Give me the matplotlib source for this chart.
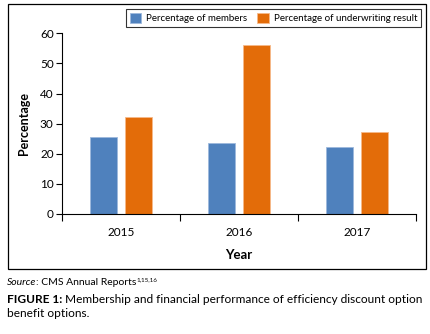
import numpy as np
import matplotlib.pyplot as plt
from matplotlib.patches import Rectangle

years = ['2015', '2016', '2017']
members = [25.7, 23.7, 22.1]
underwriting = [32.3, 56.1, 27.1]
series_names = ['Percentage of members', 'Percentage of underwriting result']

plt.rcParams['font.family'] = ['Lato', 'DejaVu Sans']

W, H = 431, 334
fig = plt.figure(figsize=(W / 100, H / 100), dpi=100)

# axes placement from pixel positions
x0, x1, y0, y1 = 62, 416, 214, 33.3
ax = fig.add_axes([x0 / W, 1 - y0 / H, (x1 - x0) / W, (y0 - y1) / H])

x = np.arange(len(years))
w = 0.23
off = 0.145
ax.bar(x - off, members, w, color='#4F81BD', edgecolor='#9DB9DC', linewidth=0.6, label=series_names[0])
ax.bar(x + off, underwriting, w, color='#E36C09', edgecolor='#F6B98A', linewidth=0.6, label=series_names[1])

ax.set_xlim(-0.5, 2.5)
ax.set_ylim(0, 60)
ax.set_yticks(range(0, 61, 10))
ax.set_xticks(x)
ax.set_xticklabels(years)
ax.set_xticks([-0.5, 0.5, 1.5, 2.5], minor=True)
ax.tick_params(axis='x', which='major', length=0, labelsize=8.5, pad=9)
ax.tick_params(axis='x', which='minor', length=5, direction='out', width=0.8)
ax.tick_params(axis='y', length=4, width=0.8, labelsize=8.5, pad=2)
for s in ['top', 'right']:
    ax.spines[s].set_visible(False)
ax.spines['left'].set_linewidth(0.8)
ax.spines['bottom'].set_linewidth(0.8)

ax.set_ylabel('Percentage', fontsize=9, fontweight='bold', labelpad=7)
ax.set_xlabel('Year', fontsize=9.5, fontweight='bold', labelpad=8)

leg = fig.legend(loc='upper right', bbox_to_anchor=(421 / W, 1 - 9 / H), ncol=2, fontsize=7,
                 frameon=True, fancybox=False, handlelength=1.2, handleheight=1.2,
                 handletextpad=0.5, columnspacing=1.0, borderpad=0.4, borderaxespad=0)
leg.get_frame().set_edgecolor('black')
leg.get_frame().set_linewidth(0.8)

fig.patches.append(Rectangle((8 / W, 1 - 269 / H), 418 / W, 265 / H, transform=fig.transFigure,
                             fill=False, edgecolor='black', linewidth=0.9))


def chain(pieces, x_px, y_px):
    # put text pieces one after another on a baseline
    xp = x_px
    for txt, kw in pieces:
        kw = dict(kw)
        dy = kw.pop('dy', 0)
        t = fig.text(xp / W, 1 - (y_px - dy) / H, txt, va='baseline', **kw)
        fig.canvas.draw()
        xp = t.get_window_extent().x1


chain([('Source', dict(fontsize=7.5, style='italic')),
       (': CMS Annual Reports', dict(fontsize=7.5)),
       ('1,15,16', dict(fontsize=4.5, dy=4))], 7, 285)
chain([('FIGURE 1:', dict(fontsize=8.6, fontweight='bold')),
       (' Membership and financial performance of efficiency discount option', dict(fontsize=8.6))], 7, 303)
chain([('benefit options.', dict(fontsize=8.6))], 7, 317)

fig.savefig('out.png', dpi=100)
